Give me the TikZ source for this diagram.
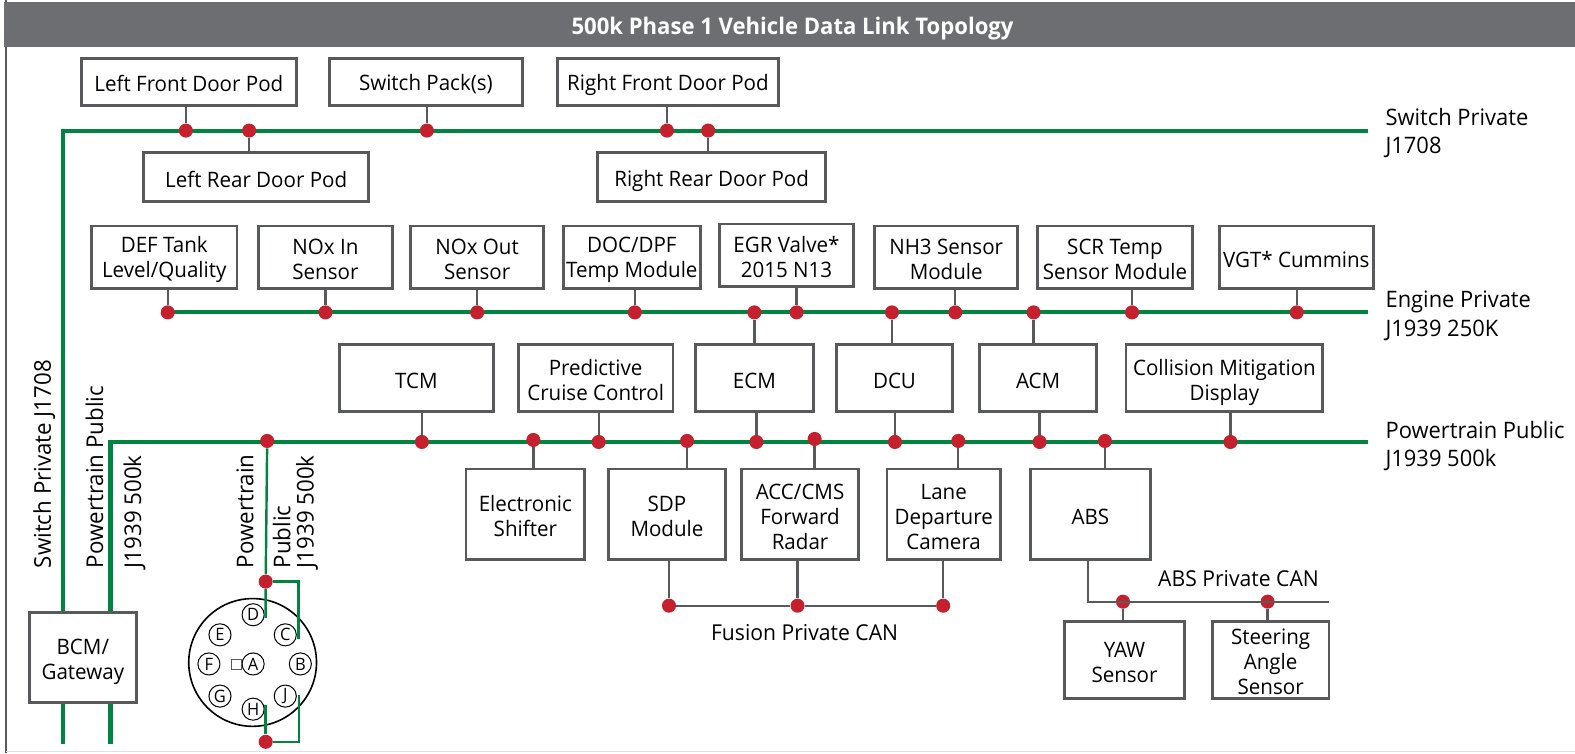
\documentclass[tikz,border=0pt]{standalone}
\usepackage{fontspec}
\setmainfont[FakeStretch=0.965]{Open Sans}
\definecolor{busgreen}{HTML}{00843F}
\definecolor{boxgray}{HTML}{58595B}
\definecolor{headgray}{HTML}{6D6E71}
\definecolor{dotred}{HTML}{C4202E}
\tikzset{
  x=0.5pt,y=-0.5pt,
  bx/.style={draw=boxgray,line width=1.4pt,fill=white,inner sep=0pt,align=center,font=\fontsize{10.6}{12.4}\selectfont},
  bus/.style={draw=busgreen,line width=2pt},
  thin bus/.style={draw=busgreen,line width=1.2pt},
  stub/.style={draw=boxgray,line width=1.15pt},
  dot/.style={circle,fill=dotred,inner sep=0pt,minimum size=7pt},
  lbl/.style={inner sep=0pt,align=left,anchor=west,font=\fontsize{11.3}{14.2}\selectfont},
  canlbl/.style={inner sep=0pt,anchor=center,font=\fontsize{10.9}{13}\selectfont},
  vlbl/.style={inner sep=0pt,align=left,anchor=west,rotate=90,font=\fontsize{11.5}{11.6}\selectfont},
  pin/.style={circle,draw=black,line width=0.5pt,fill=white,inner sep=0pt,minimum size=11pt,font=\fontsize{8.5}{9}\selectfont},
}
\newcommand{\bxn}[6]{\node[bx,minimum width={(#3-#2)*0.5pt},minimum height={(#5-#4)*0.5pt}] (#1) at ({(#2+#3)/2},{(#4+#5)/2}) {\rule{0pt}{10pt}#6};}
\begin{document}
\begin{tikzpicture}
\useasboundingbox (0,0) rectangle (1568,750);
\fill[white] (0,0) rectangle (1568,750);
\draw[boxgray,line width=1pt] (6,0) -- (6,750);
\draw[black!12,line width=0.8pt] (6,748) -- (1568,748);
\fill[headgray] (4,2) rectangle (1568,47);
\node[text=white,font=\fontsize{11.4}{13}\selectfont\bfseries] (title) at (789,28.5) {500k Phase 1 Vehicle Data Link Topology};

% buses
\coordinate (swTL) at (63,130); \coordinate (swR) at (1362,130);
\coordinate (enL) at (167,311); \coordinate (enR) at (1362,311);
\coordinate (ptTL) at (110,440); \coordinate (ptR) at (1362,440);
\coordinate (swB) at (63,741); \coordinate (ptB) at (110,741);
\draw[bus] (swB) -- (swTL) -- (swR);
\draw[bus] (enL) -- (enR);
\draw[bus] (ptB) -- (ptTL) -- (ptR);

% boxes
\bxn{lfd}{81}{295}{58}{105}{Left Front Door Pod}
\bxn{sp}{328}{520}{58}{105}{Switch Pack(s)}
\bxn{rfd}{555}{775}{58}{105}{\rule{0pt}{11.5pt}Right Front Door Pod}
\bxn{lrd}{143}{367}{152}{201}{Left Rear Door Pod}
\bxn{rrd}{595}{822}{152}{201}{\rule{0pt}{12pt}Right Rear Door Pod}
\bxn{def}{91}{236}{225}{287}{DEF Tank\\Level/Quality}
\bxn{noxi}{257}{391}{225}{287}{NOx In\\Sensor}
\bxn{noxo}{409}{541}{225}{287}{NOx Out\\Sensor}
\bxn{doc}{561}{697}{225}{287}{DOC/DPF\\Temp Module}
\bxn{egr}{716}{850}{223}{285}{EGR Valve*\\2015 N13}
\bxn{nh}{871}{1013}{225}{287}{NH3 Sensor\\Module}
\bxn{scr}{1033}{1187}{225}{287}{SCR Temp\\Sensor Module}
\bxn{vgt}{1214}{1367}{225}{287}{VGT* Cummins}
\bxn{tcm}{338}{491}{343}{410}{TCM}
\bxn{pcc}{516}{670}{343}{410}{Predictive\\Cruise Control}
\bxn{ecm}{692}{810}{343}{410}{ECM}
\bxn{dcu}{833}{948}{343}{410}{DCU}
\bxn{acm}{975}{1092}{343}{410}{ACM}
\bxn{cmd}{1121}{1317}{343}{410}{\rule{0pt}{12pt}Collision Mitigation\\Display}
\bxn{es}{464}{582}{467}{557}{Electronic\\Shifter}
\bxn{sdp}{606}{722}{467}{557}{SDP\\Module}
\bxn{acc}{738}{855}{467}{557}{ACC/CMS\\Forward\\Radar}
\bxn{ldc}{883}{996}{467}{557}{Lane\\Departure\\Camera}
\bxn{abs}{1026}{1145}{467}{557}{ABS}
\bxn{yaw}{1060}{1179}{619}{695}{YAW\\Sensor}
\bxn{sas}{1207}{1323}{619}{695}{Steering\\Angle\\Sensor}
\bxn{bcm}{29}{136}{610}{699}{\rule{0pt}{12pt}BCM/\\Gateway}

% stubs and dots
\foreach \n/\x/\y/\t/\yy in {
 a1/185/130/lfd/105, a2/248/130/lrd/152, a3/425/130/sp/105, a4/664/130/rfd/105, a5/705/130/rrd/152,
 b1/167/311/def/287, b2/324/311/noxi/287, b3/475/311/noxo/287, b4/632/311/doc/287, b5/793/311/egr/285,
 b6/951/311/nh/287, b7/1127/311/scr/287, b8/1291/311/vgt/287,
 b9/751/311/ecm/343, b10/888/311/dcu/343, b11/1029/311/acm/343,
 c1/420/440/tcm/410, c2/596/440/pcc/410, c3/753/440/ecm/410, c4/891/440/dcu/410, c5/1035/440/acm/410, c6/1225/440/cmd/410,
 c7/531/438/es/467, c8/684/439/sdp/467, c9/811/437/acc/467, c10/954/439/ldc/467, c11/1100/439/abs/467}
{
  \coordinate (t\n) at (\x,\yy);
  \node[dot] (\n) at (\x,\y) {};
  \draw[stub] (\n) -- (t\n);
}

% private CAN
\coordinate (fa) at (666,557); \coordinate (fb) at (794,557); \coordinate (fc) at (939,557);
\node[dot] (f1) at (666,603) {};
\node[dot] (f2) at (794,603) {};
\node[dot] (f3) at (939,603) {};
\draw[stub] (fa) -- (f1) -- (f2) -- (f3);
\draw[stub] (fb) -- (f2);
\draw[stub] (fc) -- (f3);
\node[canlbl] (fl) at (801,630) {Fusion Private CAN};

\coordinate (aa) at (1083,557); \coordinate (ar) at (1323,599);
\coordinate (ac) at (1083,599);
\node[dot] (g1) at (1118,599) {};
\node[dot] (g2) at (1262,599) {};
\coordinate (ya) at (1118,619); \coordinate (sa) at (1262,619);
\draw[stub] (aa) -- (ac) -- (ar);
\draw[stub] (g1) -- (ya);
\draw[stub] (g2) -- (sa);
\node[canlbl] (al) at (1233,576) {ABS Private CAN};

% bus labels
\node[lbl] (l1) at (1379,132.5) {Switch Private\\J1708};
\node[lbl] (l2) at (1379,314.5) {Engine Private\\J1939 250K};
\node[lbl] (l3) at (1379,444) {Powertrain Public\\J1939 500k};

% vertical labels
\node[vlbl] (v1) at (44,566) {Switch Private J1708};
\node[vlbl] (v2) at (94,566) {Powertrain Public};
\node[vlbl] (v3) at (134,566) {J1939 500k};
\node[vlbl] (v4) at (244,566) {Powertrain};
\node[vlbl] (v5) at (294,566) {Public\\J1939 500k};

% connector
\node[circle,draw=black,line width=0.8pt,minimum size=63.6pt,inner sep=0pt] (conn) at (251.5,659.5) {};
\node[pin] (pD) at (252,612) {D};
\node[pin] (pE) at (219,632) {E};
\node[pin] (pC) at (284,632) {C};
\node[pin] (pF) at (208,661) {F};
\node[pin] (pA) at (252,661) {A};
\node[pin] (pB) at (299,661) {B};
\node[pin] (pG) at (219,693) {G};
\node[pin] (pH) at (252,706) {H};
\node[pin] (pJ) at (284,693) {J};
\node[draw=boxgray,line width=0.5pt,minimum size=5pt,inner sep=0pt] (sq) at (235,662) {};
\coordinate (Dend) at (264.5,615); \coordinate (Cend) at (297,636);
\coordinate (Hend) at (264.5,702); \coordinate (Jend) at (297.5,692);
\coordinate (tc) at (297,579); \coordinate (bc) at (297.5,738.5);
\node[dot] (d1) at (266,439) {};
\node[dot] (d2) at (264.5,579) {};
\node[dot] (d3) at (264.5,738.5) {};
\draw[thin bus] (d1) -- (d2) -- (Dend);
\draw[thin bus] (d2) -- (tc) -- (Cend);
\draw[thin bus] (Hend) -- (d3) -- (bc) -- (Jend);
\end{tikzpicture}
\end{document}
